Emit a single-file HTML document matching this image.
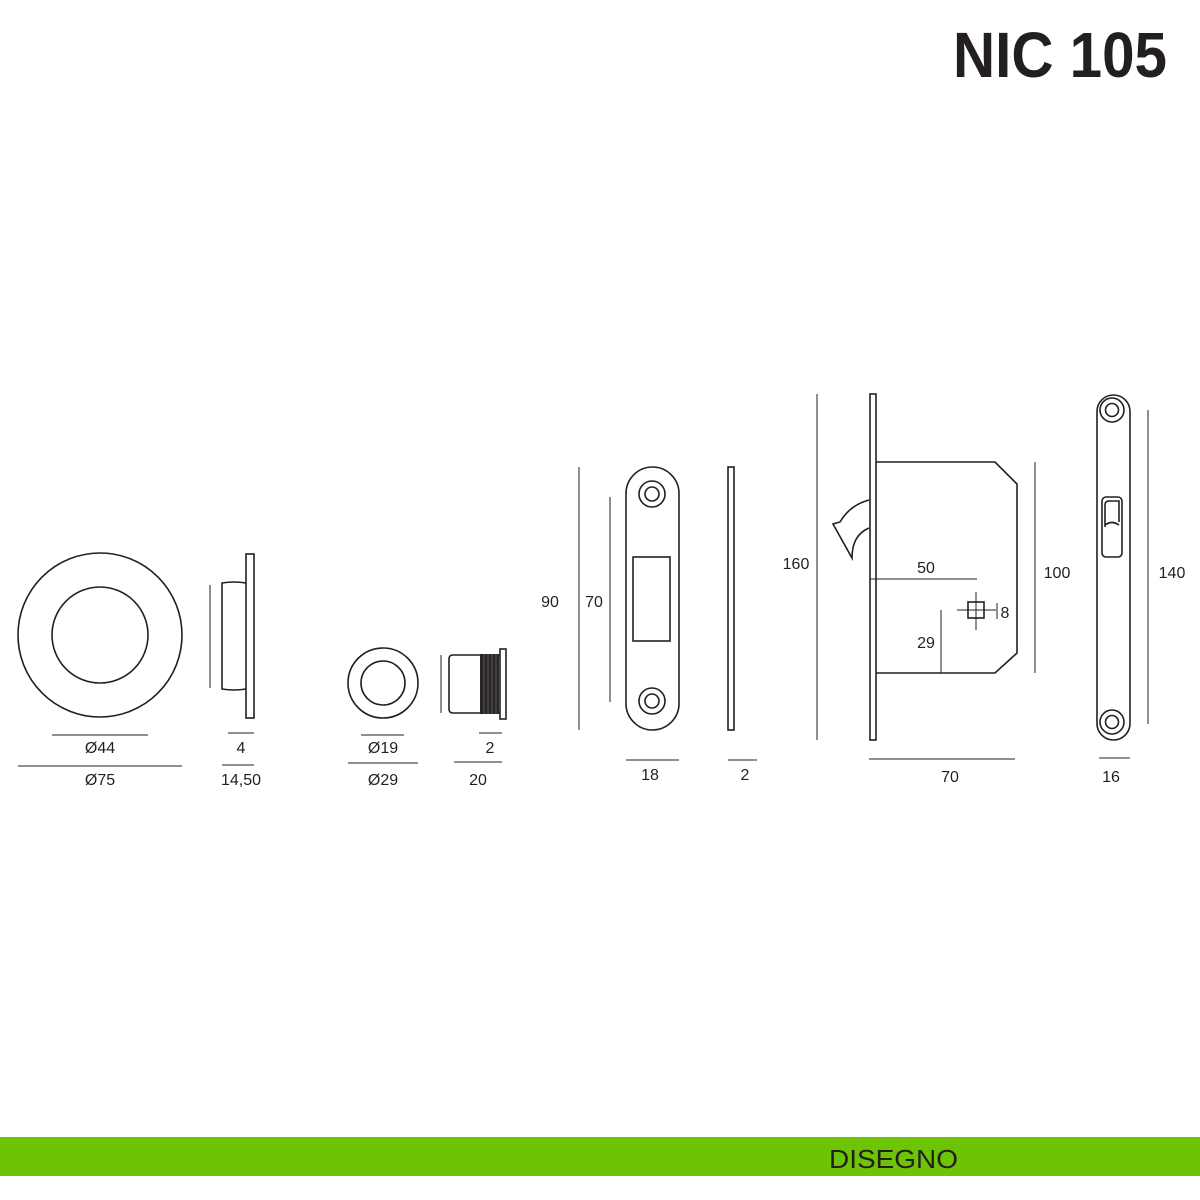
<!DOCTYPE html>
<html><head><meta charset="utf-8"><style>
html,body{margin:0;padding:0;background:#fff;width:1200px;height:1200px;overflow:hidden}
svg{display:block}
text{font-family:"Liberation Sans",sans-serif;fill:#231f20}
</style></head><body>
<svg width="1200" height="1200" viewBox="0 0 1200 1200" xmlns="http://www.w3.org/2000/svg">
<text x="953" y="77" font-size="64" font-weight="bold" textLength="214" lengthAdjust="spacingAndGlyphs">NIC 105</text>
<rect x="0" y="1137" width="1200" height="39" fill="#6cc404"/>
<text x="829" y="1168" font-size="26" fill="#111" textLength="129" lengthAdjust="spacingAndGlyphs">DISEGNO</text>

<g fill="none" stroke="#231f20" stroke-width="1.6">
<circle cx="100" cy="635" r="82"/>
<circle cx="100" cy="635" r="48"/>
<rect x="246" y="554" width="8" height="164"/>
<path d="M246 583 Q234 581 222 583 L222 689 Q234 691 246 689"/>
<circle cx="383" cy="683" r="35"/>
<circle cx="383" cy="683" r="22"/>
<path d="M480 655 L453 655 Q449 655 449 659 L449 709 Q449 713 453 713 L480 713"/>
<rect x="500" y="649" width="6" height="70"/>
<line x1="498" y1="656" x2="500" y2="656"/><line x1="498" y1="712" x2="500" y2="712"/>
<rect x="626" y="467" width="53" height="263" rx="26.5"/>
<circle cx="652" cy="494" r="13"/><circle cx="652" cy="494" r="7"/>
<circle cx="652" cy="701" r="13"/><circle cx="652" cy="701" r="7"/>
<rect x="633" y="557" width="37" height="84"/>
<rect x="728" y="467" width="6" height="263"/>
<rect x="870" y="394" width="6" height="346"/>
<path d="M876 462 L995 462 L1017 484 L1017 653 L995 673 L876 673"/>
<path d="M869 500 Q850 505 840 522 L833 524 L852 558 Q852 535 869 528"/>
<rect x="968" y="602" width="16" height="16"/>
<rect x="1097" y="395" width="33" height="345" rx="16.5"/>
<circle cx="1112" cy="410" r="12"/><circle cx="1112" cy="410" r="6.5"/>
<circle cx="1112" cy="722" r="12"/><circle cx="1112" cy="722" r="6.5"/>
<rect x="1102" y="497" width="20" height="60" rx="4"/>
<path d="M1105 527 L1105 505 Q1105 501 1109 501 L1119 501 L1119 522 M1105 525 Q1112 520 1119 525"/>
</g>
<rect x="480" y="654" width="19" height="60" fill="#2a2526"/>
<g stroke="#777" stroke-width="0.6">
<line x1="484" y1="654" x2="484" y2="714"/><line x1="488" y1="654" x2="488" y2="714"/><line x1="492" y1="654" x2="492" y2="714"/><line x1="496" y1="654" x2="496" y2="714"/>
</g>

<g stroke="#231f20" stroke-width="1">
<line x1="210" y1="585" x2="210" y2="688"/>
<line x1="52" y1="735" x2="148" y2="735"/>
<line x1="18" y1="766" x2="182" y2="766"/>
<line x1="228" y1="733" x2="254" y2="733"/>
<line x1="222" y1="765" x2="254" y2="765"/>
<line x1="441" y1="655" x2="441" y2="713"/>
<line x1="361" y1="735" x2="404" y2="735"/>
<line x1="348" y1="763" x2="418" y2="763"/>
<line x1="479" y1="733" x2="502" y2="733"/>
<line x1="454" y1="762" x2="502" y2="762"/>
<line x1="579" y1="467" x2="579" y2="730"/>
<line x1="610" y1="497" x2="610" y2="702"/>
<line x1="626" y1="760" x2="679" y2="760"/>
<line x1="728" y1="760" x2="757" y2="760"/>
<line x1="817" y1="394" x2="817" y2="740"/>
<line x1="870" y1="579" x2="977" y2="579"/>
<line x1="941" y1="610" x2="941" y2="673"/>
<line x1="997" y1="603" x2="997" y2="619"/>
<line x1="957" y1="610" x2="996" y2="610"/>
<line x1="976" y1="592" x2="976" y2="630"/>
<line x1="1035" y1="462" x2="1035" y2="673"/>
<line x1="869" y1="759" x2="1015" y2="759"/>
<line x1="1148" y1="410" x2="1148" y2="724"/>
<line x1="1099" y1="758" x2="1130" y2="758"/>
</g>

<g font-size="16" text-anchor="middle">
<text x="100" y="753">Ø44</text>
<text x="100" y="785">Ø75</text>
<text x="241" y="753">4</text>
<text x="241" y="785">14,50</text>
<text x="383" y="753">Ø19</text>
<text x="383" y="785">Ø29</text>
<text x="490" y="753">2</text>
<text x="478" y="785">20</text>
<text x="550" y="607">90</text>
<text x="594" y="607">70</text>
<text x="650" y="780">18</text>
<text x="745" y="780">2</text>
<text x="796" y="569">160</text>
<text x="926" y="573">50</text>
<text x="926" y="648">29</text>
<text x="1005" y="618">8</text>
<text x="1057" y="578">100</text>
<text x="950" y="782">70</text>
<text x="1172" y="578">140</text>
<text x="1111" y="782">16</text>
</g>
</svg>
</body></html>
